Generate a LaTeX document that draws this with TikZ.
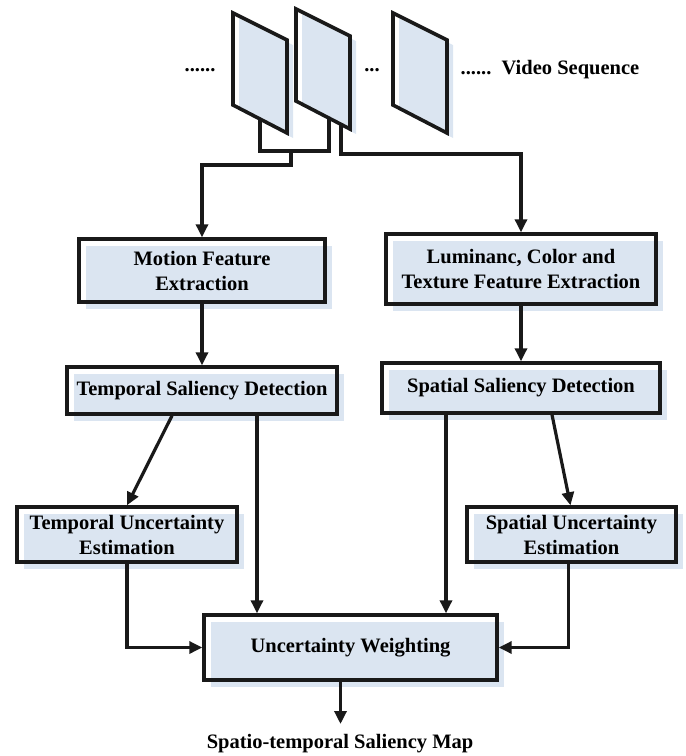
\documentclass[tikz,border=0pt]{standalone}
\usepackage{fontspec}
\setmainfont{Liberation Serif}
\usetikzlibrary{arrows.meta,shadows}
\definecolor{boxblue}{RGB}{219,229,241}
\definecolor{ink}{RGB}{25,25,25}
\tikzset{
  stage/.style={draw=ink, line width=3.4pt, align=center, inner sep=0pt,
    font=\bfseries\fontsize{20.5}{25}\selectfont,
    drop shadow={shadow xshift=7pt, shadow yshift=-7pt, fill=boxblue, opacity=1}},
  link/.style={draw=ink, line width=3.2pt},
  arr/.style={link, -{Triangle[length=13pt,width=12pt]}},
  lbl/.style={font=\bfseries\fontsize{20.5}{25}\selectfont, inner sep=0pt},
  frameline/.style={draw=ink, line width=3.6pt, line join=miter},
}
\begin{document}
\begin{tikzpicture}[x=1pt,y=-1pt]
\useasboundingbox (0,0) rectangle (686,756);

% video frames: a light copy offset behind each outline
\foreach \fx/\fy in {233/13, 296/9, 393/13}{
  \fill[boxblue] (\fx+6,\fy+5) -- ++(54,27) -- ++(0,93) -- ++(-54,-28) -- cycle;
  \draw[frameline] (\fx,\fy) -- ++(54,27) -- ++(0,93) -- ++(-54,-28) -- cycle;
}
\coordinate (f1b) at (260,119);
\coordinate (f2b) at (329,118);
\coordinate (f2c) at (341,124);
\coordinate (j1) at (291,151);

\node[lbl] (d1) at (200,70) {......};
\node[lbl] (d2) at (372,70) {...};
\node[lbl] (vs) at (550,70) {......\ \ Video Sequence};

% processing stages
\node[stage, minimum width=246pt, minimum height=63pt] (mfe) at (202,270.5) {Motion Feature\\Extraction};
\node[stage, minimum width=270pt, minimum height=70pt] (lum) at (521,269) {Luminanc, Color and\\Texture Feature Extraction};
\node[stage, minimum width=270pt, minimum height=47pt] (tsd) at (202,390.5) {Temporal Saliency Detection};
\node[stage, minimum width=278pt, minimum height=50pt] (ssd) at (521,388) {Spatial Saliency Detection};
\node[stage, minimum width=220pt, minimum height=55pt] (tue) at (127,534.5) {Temporal Uncertainty\\Estimation};
\node[stage, minimum width=209pt, minimum height=55pt] (sue) at (571.5,534.5) {Spatial Uncertainty\\Estimation};
\node[stage, minimum width=293pt, minimum height=65pt] (uw) at (350.5,647.5) {Uncertainty Weighting};
\node[lbl] (out) at (340,744) {Spatio-temporal Saliency Map};

% connectors from the frames
\draw[link] (f1b) -- (f1b |- j1) -- (f2b |- j1) -- (f2b);
\draw[arr] (j1) -- (291,165) -- (202,165) -- (mfe.north);
\draw[arr] (f2c) -- (341,154) -- (521,154) -- (lum.north);

% flow between stages
\draw[arr] (mfe) -- (tsd);
\draw[arr] (lum) -- (ssd);
\draw[arr] ([xshift=-30pt]tsd.south) -- (tue.north);
\draw[arr] ([xshift=31pt]ssd.south) -- ([xshift=-1pt]sue.north);
\draw[arr] ([xshift=55pt]tsd.south) -- ([xshift=55pt]tsd.south |- uw.north);
\draw[arr] ([xshift=-75pt]ssd.south) -- ([xshift=-75pt]ssd.south |- uw.north);
\draw[arr] (tue.south) |- (uw.west);
\draw[arr] ([xshift=-3pt]sue.south) |- (uw.east);
\draw[arr] ([xshift=-10pt]uw.south) -- ([xshift=-10pt]uw.south |- 0,724);
\end{tikzpicture}
\end{document}
